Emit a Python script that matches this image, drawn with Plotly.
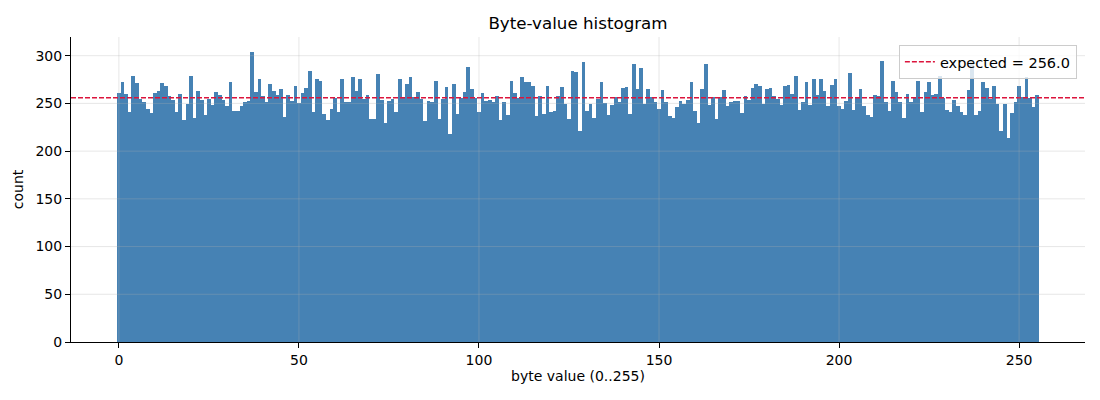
import plotly.graph_objects as go

# byte values 0..255 and their counts
byte_values = list(range(256))
counts = [
    261, 272, 260, 241, 279, 271, 255, 251, 244, 240, 261, 263, 271, 268, 258, 254,
    241, 260, 233, 249, 279, 235, 263, 254, 238, 255, 248, 262, 259, 254, 247, 272,
    242, 242, 247, 251, 253, 304, 262, 276, 258, 251, 270, 263, 259, 265, 236, 259,
    253, 268, 250, 261, 266, 284, 241, 276, 274, 239, 233, 244, 256, 241, 276, 252,
    251, 278, 263, 276, 255, 259, 234, 234, 281, 254, 230, 253, 255, 241, 276, 257,
    270, 278, 257, 262, 255, 232, 253, 252, 274, 234, 255, 267, 218, 270, 239, 256,
    262, 288, 265, 256, 241, 261, 253, 254, 251, 258, 233, 251, 238, 273, 261, 256,
    278, 272, 272, 268, 237, 258, 239, 268, 241, 242, 258, 267, 249, 234, 284, 283,
    221, 293, 242, 249, 235, 255, 272, 250, 238, 248, 257, 252, 266, 267, 239, 291,
    265, 287, 249, 265, 257, 251, 244, 264, 252, 237, 235, 246, 253, 249, 254, 272,
    242, 229, 265, 291, 248, 257, 234, 257, 264, 247, 252, 253, 253, 240, 258, 254,
    266, 270, 268, 249, 265, 266, 258, 255, 248, 268, 269, 260, 279, 243, 251, 272,
    248, 276, 259, 276, 263, 247, 269, 276, 247, 244, 253, 282, 243, 257, 265, 247,
    238, 236, 259, 258, 294, 252, 242, 274, 262, 251, 235, 260, 251, 257, 273, 241,
    262, 272, 259, 260, 279, 256, 243, 241, 254, 247, 241, 238, 264, 295, 238, 242,
    272, 266, 255, 268, 249, 221, 249, 214, 240, 252, 268, 257, 278, 256, 246, 259,
]
expected = 256.0

x_ticks = [0, 50, 100, 150, 200, 250]
y_ticks = [0, 50, 100, 150, 200, 250, 300]

FONT = "DejaVu Sans"
RED = "#dc143c"

fig = go.Figure()
fig.add_trace(go.Bar(
    x=byte_values, y=counts, width=1,
    marker=dict(color="#4682b4", line=dict(width=0)),
    showlegend=False,
))
# legend entry for the reference line
fig.add_trace(go.Scatter(
    x=[None], y=[None], mode="lines",
    line=dict(color=RED, width=1.5, dash="5px,2px"),
    name="expected = %.1f" % expected,
))
fig.add_hline(y=expected, line=dict(color=RED, width=1.5, dash="5px,2px"), layer="above")

# matplotlib-like grid drawn over the bars
grid = dict(color="rgba(176,176,176,0.3)", width=1)
for t in x_ticks:
    fig.add_shape(type="line", xref="x", yref="paper", x0=t, x1=t, y0=0, y1=1,
                  line=grid, layer="above")
for t in y_ticks[1:]:
    fig.add_shape(type="line", xref="paper", yref="y", x0=0, x1=1, y0=t, y1=t,
                  line=grid, layer="above")

fig.update_layout(
    width=1100, height=400,
    margin=dict(l=71, r=15, t=37, b=58),
    paper_bgcolor="white", plot_bgcolor="white",
    font=dict(family=FONT, size=14, color="black"),
    bargap=0,
    title=dict(text="Byte-value histogram", x=0.5, xref="paper", xanchor="center",
               y=1 - 23 / 400, yref="container", yanchor="middle",
               font=dict(size=16.7, family=FONT)),
    legend=dict(x=0.992, y=0.974, xanchor="right", yanchor="top",
                bgcolor="rgba(255,255,255,0.8)", bordercolor="#cccccc", borderwidth=1,
                font=dict(size=14.5, family=FONT), itemwidth=30),
)
fig.update_xaxes(
    range=[-13.3, 268.3], tickvals=x_ticks, showgrid=False, zeroline=False,
    showline=True, linecolor="black", linewidth=1,
    ticks="outside", ticklen=5, tickcolor="black",
    title=dict(text="byte value (0..255)", standoff=4, font=dict(size=14)),
)
fig.update_yaxes(
    range=[0, 319.6], tickvals=y_ticks, showgrid=False, zeroline=False,
    showline=True, linecolor="black", linewidth=1,
    ticks="outside", ticklen=5, tickcolor="black",
    title=dict(text="count", standoff=8, font=dict(size=14)),
)

# drop the page's default body margin so the figure sits at the top-left corner
fig.write_html("out.html", config={"displayModeBar": False},
               post_script="document.body.style.margin='0';")
